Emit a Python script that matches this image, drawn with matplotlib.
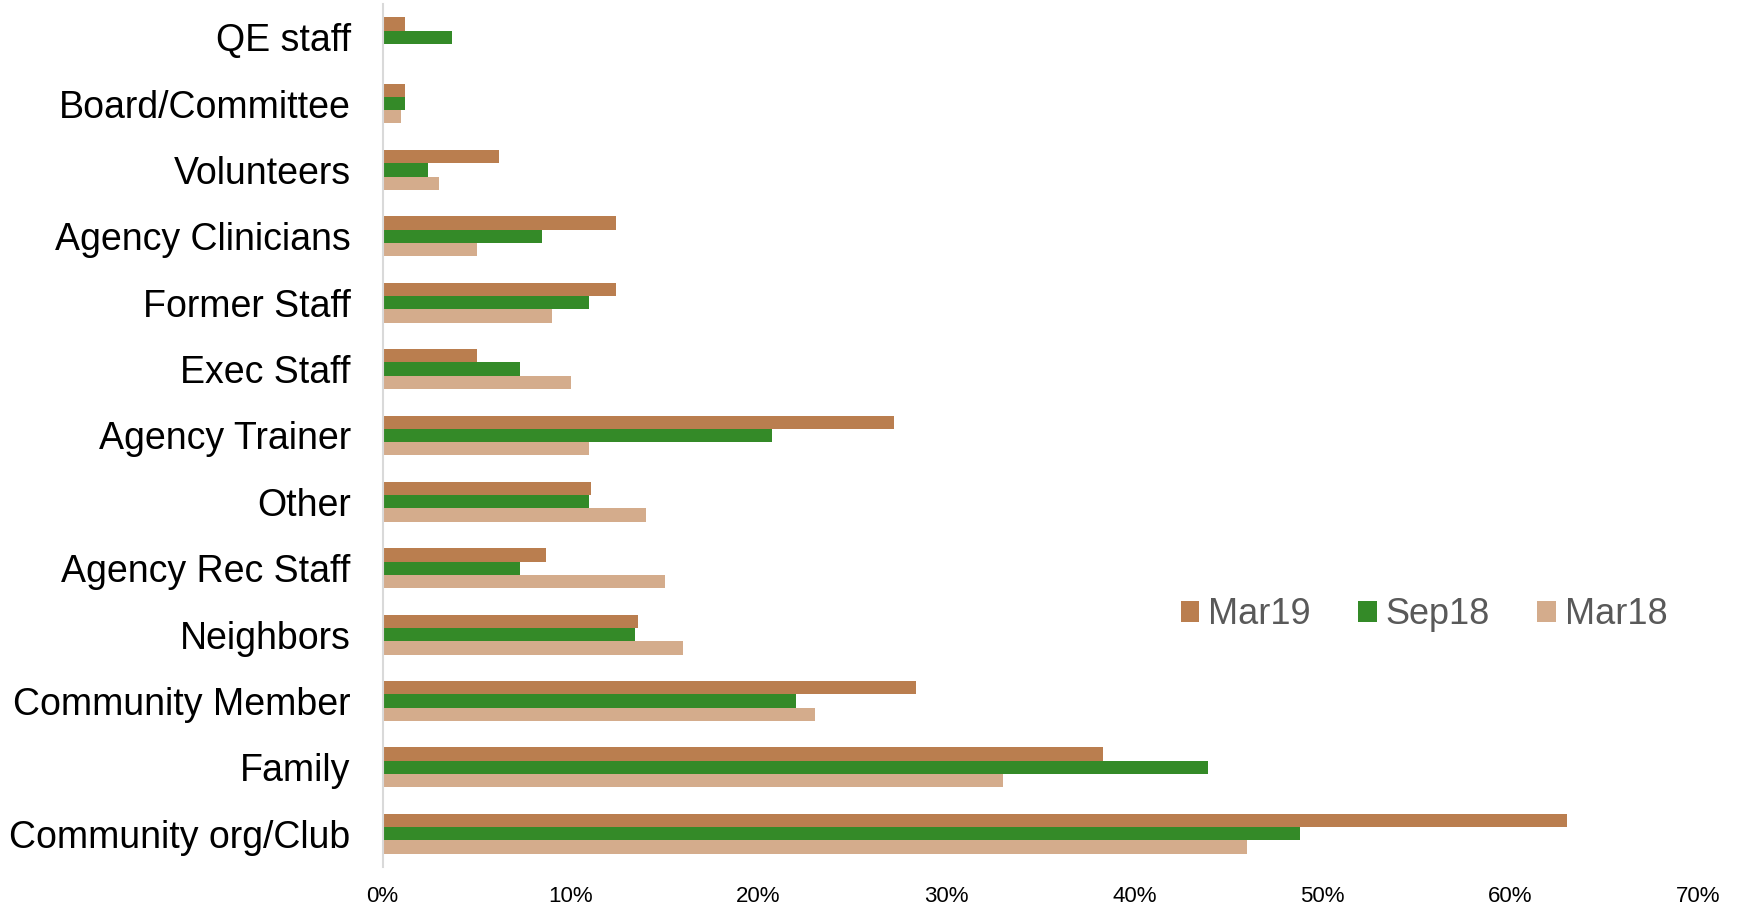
import matplotlib
matplotlib.use("Agg")
import matplotlib.pyplot as plt
from matplotlib.patches import Patch
import numpy as np

plt.rcParams["font.family"] = ["Liberation Sans", "DejaVu Sans"]

categories = ["Community org/Club", "Family", "Community Member", "Neighbors",
              "Agency Rec Staff", "Other", "Agency Trainer", "Exec Staff",
              "Former Staff", "Agency Clinicians", "Volunteers",
              "Board/Committee", "QE staff"]

mar19 = [63.0, 38.3, 28.4, 13.6, 8.7, 11.1, 27.2, 5.0, 12.4, 12.4, 6.2, 1.2, 1.2]
sep18 = [48.8, 43.9, 22.0, 13.4, 7.3, 11.0, 20.7, 7.3, 11.0, 8.5, 2.4, 1.2, 3.7]
mar18 = [46.0, 33.0, 23.0, 16.0, 15.0, 14.0, 11.0, 10.0, 9.0, 5.0, 3.0, 1.0, 0.0]

series_names = ["Mar19", "Sep18", "Mar18"]
colors = ["#BA7E4F", "#348A28", "#D4AC8C"]

fig = plt.figure(figsize=(17.43, 9.10), dpi=100)
ax = fig.add_axes([0.2195, 0.0473, 0.755, 0.9483])

y = np.arange(len(categories)) + 0.5
h = 0.2
for vals, off, col in zip([mar19, sep18, mar18], [h, 0, -h], colors):
    ax.barh(y + off, vals, height=h, color=col, edgecolor="none")

ax.set_xlim(0, 70)
ax.set_ylim(0, len(categories))
ax.set_xticks(np.arange(0, 71, 10))
ax.set_xticklabels([f"{v}%" for v in range(0, 71, 10)], fontsize=16)
ax.set_yticks(y)
ax.set_yticklabels(categories, fontsize=27)
ax.tick_params(axis="both", length=0)
ax.tick_params(axis="y", pad=23)
ax.tick_params(axis="x", pad=14)

for side in ["top", "right", "bottom"]:
    ax.spines[side].set_visible(False)
ax.spines["left"].set_color("#D9D9D9")
ax.spines["left"].set_linewidth(1.5)

handles = [Patch(facecolor=c, edgecolor="none") for c in colors]
leg = fig.legend(handles, series_names, loc="center", bbox_to_anchor=(1424 / 1743, 1 - 615 / 910),
                 ncol=3, frameon=False, fontsize=26, handlelength=0.52, handleheight=0.52,
                 handletextpad=0.25, columnspacing=1.3)
for t in leg.get_texts():
    t.set_color("#595959")

fig.savefig("out.png", dpi=100)
